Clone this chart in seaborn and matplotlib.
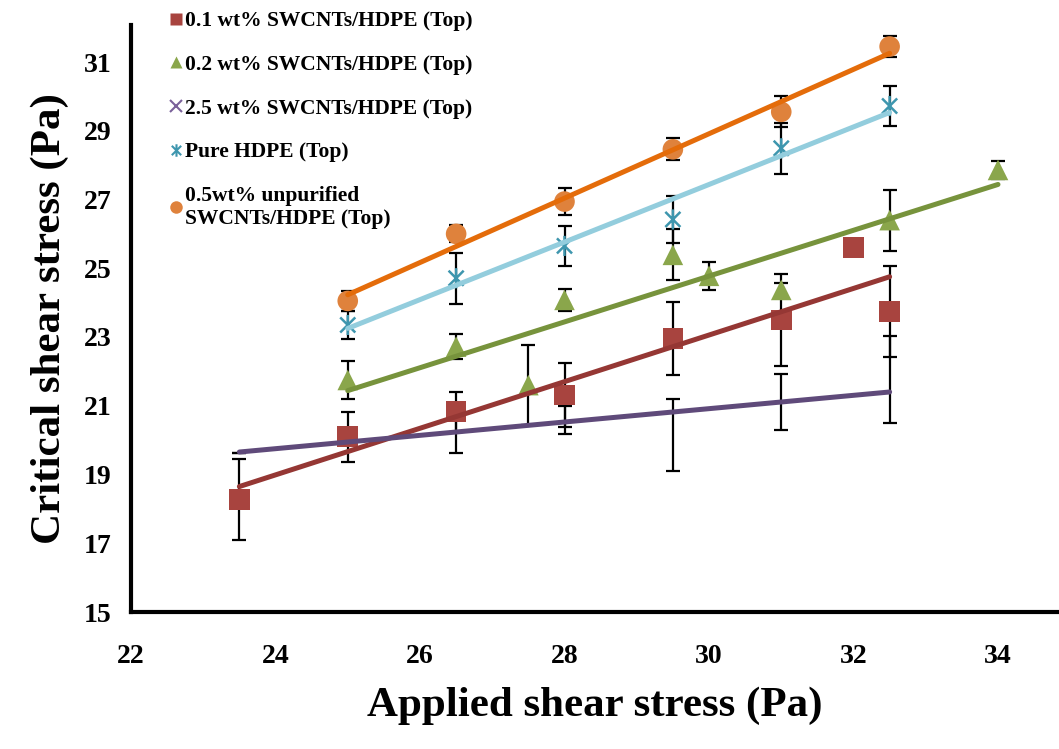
import numpy as np
import pandas as pd
import matplotlib
matplotlib.use("Agg")
import matplotlib.pyplot as plt
from matplotlib.path import Path
from matplotlib.lines import Line2D
import seaborn as sns

# ---------------- data ----------------
labels = ["0.1 wt% SWCNTs/HDPE (Top)",
          "0.2 wt% SWCNTs/HDPE (Top)",
          "2.5 wt% SWCNTs/HDPE (Top)",
          "Pure HDPE (Top)",
          "0.5wt% unpurified\nSWCNTs/HDPE (Top)"]

x_01 = [23.5, 25, 26.5, 28, 29.5, 31, 32, 32.5]
y_01 = [18.28, 20.10, 20.83, 21.31, 22.96, 23.49, 25.61, 23.74]
e_01 = [1.18, 0.73, 0.58, 0.92, 1.07, 1.33, 0.0, 1.33]

x_02 = [25, 26.5, 27.5, 28, 29.5, 30, 31, 32.5, 34]
y_02 = [21.75, 22.72, 21.60, 24.08, 25.39, 24.78, 24.37, 26.40, 27.86]
e_02 = [0.56, 0.37, 1.17, 0.32, 0.74, 0.41, 0.19, 0.89, 0.27]

x_25 = [23.5, 25, 26.5, 28, 29.5, 31, 32.5]
y_25 = [19.64, 20.15, 20.29, 20.59, 20.15, 21.10, 21.77]
e_25 = [0.0, 0.15, 0.65, 0.41, 1.04, 0.81, 1.26]

x_pure = [25, 26.5, 28, 29.5, 31, 32.5]
y_pure = [23.35, 24.71, 25.65, 26.42, 28.49, 29.72]
e_pure = [0.41, 0.74, 0.57, 0.68, 0.75, 0.58]

x_05 = [25, 26.5, 28, 29.5, 31, 32.5]
y_05 = [24.05, 26.00, 26.94, 28.46, 29.55, 31.45]
e_05 = [0.29, 0.25, 0.39, 0.32, 0.45, 0.30]

xticks = [22, 24, 26, 28, 30, 32, 34]
yticks = [15, 17, 19, 21, 23, 25, 27, 29, 31]

# ---------------- style ----------------
sns.set_theme(style="white")
plt.rcParams["font.family"] = ["Liberation Serif", "DejaVu Serif"]
plt.rcParams["font.weight"] = "bold"
plt.rcParams["axes.labelweight"] = "bold"
plt.rcParams["text.color"] = "black"
plt.rcParams["axes.labelcolor"] = "black"
plt.rcParams["xtick.color"] = "black"
plt.rcParams["ytick.color"] = "black"

star = Path([(0, -1), (0, 1), (-0.75, -0.75), (0.75, 0.75), (-0.75, 0.75), (0.75, -0.75)],
            [Path.MOVETO, Path.LINETO, Path.MOVETO, Path.LINETO, Path.MOVETO, Path.LINETO])

series = [
    (x_01, y_01, e_01, "s", "#A8443F", "#953734"),
    (x_02, y_02, e_02, "^", "#8AA64B", "#77933C"),
    (x_25, y_25, e_25, "x", "#7A619A", "#5F4A7A"),
    (x_pure, y_pure, e_pure, star, "#3E96AE", "#93CDDD"),
    (x_05, y_05, e_05, "o", "#DF823C", "#E46C0A"),
]

fig = plt.figure(figsize=(10.59, 7.49), dpi=100)
ax = fig.add_axes([131 / 1059, 1 - 612 / 749, 1 - 131 / 1059, (612 - 25) / 749])

handles = []
for (xs, ys, es, mk, mcol, lcol), lab in zip(series, labels):
    df = pd.DataFrame({"x": xs, "y": ys, "e": es})
    ax.errorbar(df["x"], df["y"], yerr=df["e"], fmt="none", ecolor="black",
                elinewidth=1.6, capsize=5, capthick=1.6, zorder=2)
    if mk == "x" or mk is star:
        sns.scatterplot(data=df, x="x", y="y", marker=mk, s=210, color=mcol,
                        facecolor="none", edgecolor=mcol, linewidth=1.8, zorder=3, ax=ax)
        h = Line2D([], [], linestyle="none", marker=mk, markersize=9,
                   markeredgecolor=mcol, markerfacecolor="none", markeredgewidth=1.5)
    else:
        sns.scatterplot(data=df, x="x", y="y", marker=mk, s=220, color=mcol,
                        edgecolor="none", linewidth=0, zorder=3, ax=ax)
        h = Line2D([], [], linestyle="none", marker=mk, markersize=9,
                   markeredgecolor="none", markerfacecolor=mcol)
    handles.append(h)
    sns.regplot(data=df, x="x", y="y", scatter=False, ci=None, truncate=True,
                line_kws=dict(color=lcol, lw=3.6, zorder=4, solid_capstyle="round"), ax=ax)

ax.set_xlim(22, 22 + (1059 - 131) / 72.25)
ax.set_ylim(15, 15 + (612 - 25) / 34.375)
ax.set_xticks(xticks)
ax.set_yticks(yticks)
ax.set_xticklabels([str(t) for t in xticks])
ax.set_yticklabels([str(t) for t in yticks])
ax.tick_params(axis="both", direction="out", length=6, width=2.4, colors="black",
               labelsize=20)
ax.tick_params(axis="x", pad=17)
ax.tick_params(axis="y", pad=8)
for lab in ax.get_xticklabels() + ax.get_yticklabels():
    lab.set_fontweight("bold")

sns.despine(ax=ax)
for sp in ["left", "bottom"]:
    ax.spines[sp].set_linewidth(3.0)
    ax.spines[sp].set_color("black")

ax.set_xlabel("Applied shear stress (Pa)", fontsize=31, fontweight="bold", labelpad=13)
ax.set_ylabel("Critical shear stress (Pa)", fontsize=31, fontweight="bold", labelpad=11)

leg = fig.legend(handles, labels, loc="upper left", bbox_to_anchor=(167 / 1059, 1 - 11 / 749),
                 frameon=False, prop=dict(size=15.5, weight="bold"),
                 handlelength=0.8, handletextpad=0.05, labelspacing=1.1,
                 borderaxespad=0, borderpad=0)

fig.savefig("out.png", dpi=100)
